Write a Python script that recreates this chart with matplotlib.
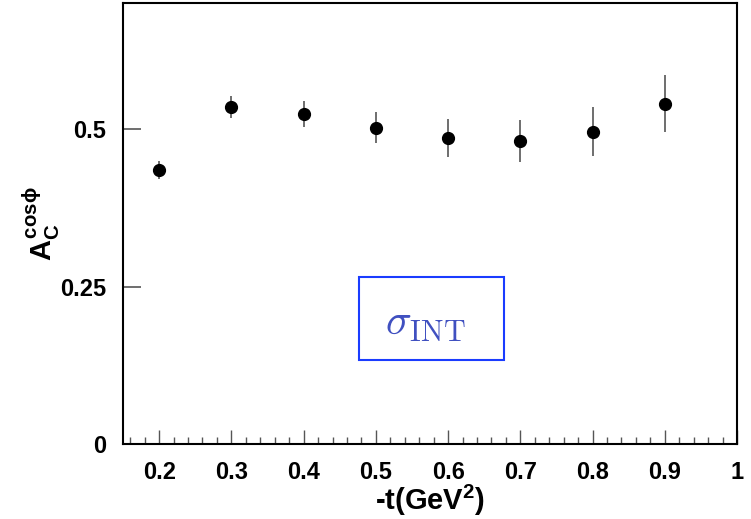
import matplotlib
matplotlib.use('Agg')
import matplotlib.pyplot as plt
from matplotlib.patches import Rectangle
from matplotlib.ticker import MultipleLocator

plt.rcParams['font.family'] = ['Liberation Sans', 'DejaVu Sans']
plt.rcParams['font.weight'] = 'bold'
plt.rcParams['mathtext.fontset'] = 'custom'
plt.rcParams['mathtext.rm'] = 'Liberation Sans:bold'
plt.rcParams['mathtext.it'] = 'Liberation Sans:bold'
plt.rcParams['mathtext.bf'] = 'Liberation Sans:bold'

# data
t_vals = [0.2, 0.3, 0.4, 0.5, 0.6, 0.7, 0.8, 0.9]
a_cos = [0.435, 0.535, 0.524, 0.502, 0.486, 0.481, 0.496, 0.540]
a_err = [0.015, 0.018, 0.021, 0.025, 0.030, 0.034, 0.039, 0.045]

fig = plt.figure(figsize=(7.51, 5.19), dpi=100)
ax = fig.add_axes([0.1638, 0.1445, 0.8176, 0.8497])

ax.errorbar(t_vals, a_cos, yerr=a_err, fmt='o', color='black', ms=8.5,
            ecolor='#555555', elinewidth=1.2, capsize=0)

ax.set_xlim(0.15, 1.0)
ax.set_ylim(0, 0.7)
ax.xaxis.set_minor_locator(MultipleLocator(0.02))
ax.set_yticks([0, 0.25, 0.5])
ax.set_yticklabels(['0', '0.25', '0.5'])
ax.set_xticks([0.2, 0.3, 0.4, 0.5, 0.6, 0.7, 0.8, 0.9, 1.0])
ax.set_xticklabels(['0.2', '0.3', '0.4', '0.5', '0.6', '0.7', '0.8', '0.9', '1'])

ax.tick_params(axis='both', which='both', direction='in', top=False, right=False,
               labelsize=17, pad=12)
ax.tick_params(axis='x', which='major', length=10, width=1, color='#555555')
ax.tick_params(axis='x', which='minor', length=5, width=1, color='#555555')
ax.tick_params(axis='y', which='major', length=13, width=1.2, color='#555555')

for s in ax.spines.values():
    s.set_linewidth(1.5)

ax.set_xlabel(r'-t(GeV$^2$)', fontsize=21, fontweight='bold', va='bottom')
ax.xaxis.set_label_coords(0.5, -0.168)
ax.set_ylabel(r'$A_C^{cos\phi}$', fontsize=21)
ax.yaxis.set_label_coords(-0.10, 0.5)

# sigma_INT box
ax.add_patch(Rectangle((0.4764, 0.134), 0.2014, 0.131, fill=False,
                       ec='#1a3cff', lw=1.5))
ax.text(0.568, 0.19, r'$\sigma_{\rm INT}$', math_fontfamily='cm', fontsize=31,
        color='#4050c0', ha='center', va='center')

fig.savefig('out.png', dpi=100)
